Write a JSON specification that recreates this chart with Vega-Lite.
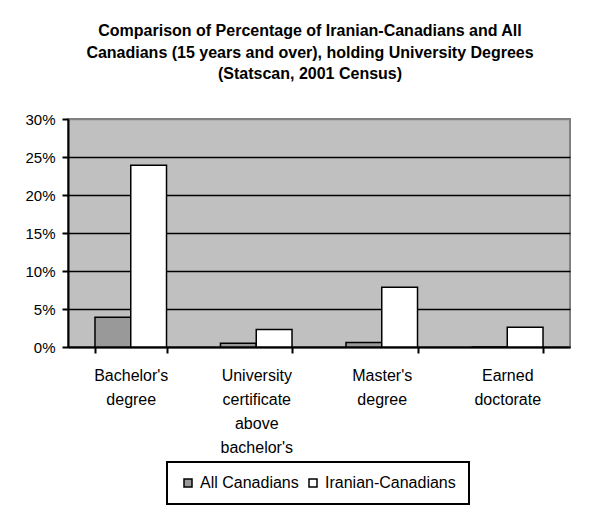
{
  "$schema": "https://vega.github.io/schema/vega-lite/v6.json",
  "width": 502,
  "height": 228,
  "autosize": "none",
  "padding": {"left": 68, "top": 119, "right": 37, "bottom": 158},
  "background": "white",
  "config": {
    "font": "Liberation Sans",
    "view": {"fill": "#C0C0C0", "stroke": "#808080", "strokeWidth": 2}
  },
  "title": {
    "text": ["Comparison of Percentage of Iranian-Canadians and All", "Canadians (15 years and over), holding University Degrees", "(Statscan, 2001 Census)"],
    "fontSize": 16,
    "fontWeight": "bold",
    "font": "Liberation Sans",
    "color": "black",
    "lineHeight": 21.5,
    "anchor": "middle",
    "offset": 30,
    "dx": -9
  },
  "data": {
    "values": [
      {"degree": "Bachelor's degree", "group": "All Canadians", "pct": 0.039},
      {"degree": "Bachelor's degree", "group": "Iranian-Canadians", "pct": 0.239},
      {"degree": "University certificate above bachelor's", "group": "All Canadians", "pct": 0.005},
      {"degree": "University certificate above bachelor's", "group": "Iranian-Canadians", "pct": 0.023},
      {"degree": "Master's degree", "group": "All Canadians", "pct": 0.006},
      {"degree": "Master's degree", "group": "Iranian-Canadians", "pct": 0.0785},
      {"degree": "Earned doctorate", "group": "All Canadians", "pct": 0.0},
      {"degree": "Earned doctorate", "group": "Iranian-Canadians", "pct": 0.026}
    ]
  },
  "mark": {"type": "bar", "stroke": "black", "strokeWidth": 1.5},
  "encoding": {
    "x": {
      "field": "degree",
      "type": "nominal",
      "sort": ["Bachelor's degree", "University certificate above bachelor's", "Master's degree", "Earned doctorate"],
      "scale": {"paddingInner": 0.43, "paddingOuter": 0.215},
      "axis": {
        "title": null,
        "labelAngle": 0,
        "labelExpr": "split(datum.label, ' ')",
        "labelFontSize": 16,
        "labelColor": "black",
        "labelLineHeight": 24,
        "labelPadding": 14,
        "tickBand": "extent",
        "tickColor": "black",
        "tickSize": 6,
        "tickWidth": 2,
        "domainColor": "black",
        "domainWidth": 2,
        "grid": false
      }
    },
    "xOffset": {"field": "group", "type": "nominal", "sort": ["All Canadians", "Iranian-Canadians"]},
    "y": {
      "field": "pct",
      "type": "quantitative",
      "scale": {"domain": [0, 0.3], "nice": false},
      "axis": {
        "title": null,
        "format": ".0%",
        "values": [0, 0.05, 0.1, 0.15, 0.2, 0.25, 0.3],
        "labelFontSize": 15,
        "labelColor": "black",
        "labelPadding": 7,
        "tickColor": "black",
        "tickSize": 6,
        "tickWidth": 2,
        "domainColor": "black",
        "domainWidth": 2,
        "grid": true,
        "gridColor": {"condition": {"test": "datum.value >= 0.3", "value": "#808080"}, "value": "black"},
        "gridWidth": 1.3,
        "gridOpacity": 1
      }
    },
    "fill": {
      "field": "group",
      "type": "nominal",
      "scale": {"domain": ["All Canadians", "Iranian-Canadians"], "range": ["#999999", "#ffffff"]},
      "legend": {
        "title": null,
        "orient": "none",
        "legendX": 99,
        "legendY": 343,
        "direction": "horizontal",
        "strokeColor": "black",
        "fillColor": "white",
        "padding": 13,
        "symbolType": "square",
        "symbolSize": 64,
        "symbolStrokeColor": "black",
        "symbolStrokeWidth": 1.5,
        "labelFontSize": 16,
        "labelColor": "black",
        "labelOffset": 4,
        "columnPadding": 6,
        "encode": {"legend": {"update": {"strokeWidth": {"value": 2}}}}
      }
    }
  }
}
